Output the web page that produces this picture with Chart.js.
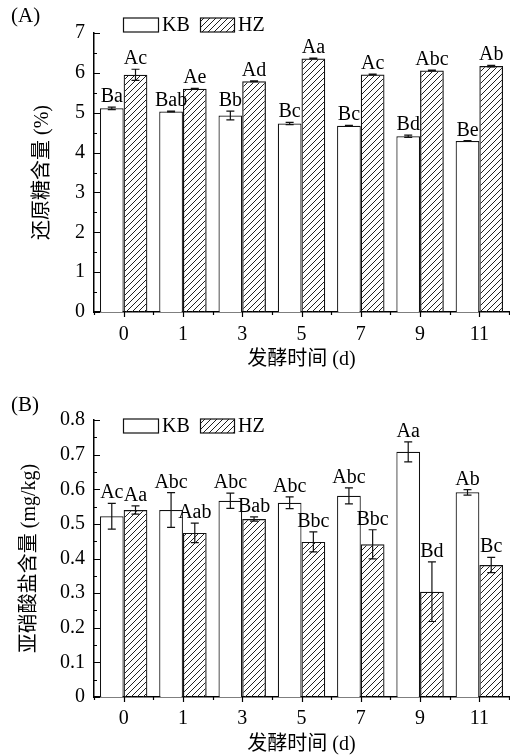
<!DOCTYPE html>
<html lang="zh">
  <head>
    <meta charset="UTF-8" />
    <title>还原糖与亚硝酸盐含量</title>
    <script src="https://cdn.jsdelivr.net/npm/chart.js"></script>
    <style>
      body {
        margin: 0;
        background: #fff;
      }
      .panel {
        position: absolute;
        left: 0;
        width: 510px;
        height: 378px;
      }
      #panelA { top: 0; }
      #panelB { top: 378px; }
    </style>
  </head>
  <body>
    <div class="panel" id="panelA"><canvas id="sugarChart" width="510" height="378"></canvas></div>
    <div class="panel" id="panelB"><canvas id="nitriteChart" width="510" height="378"></canvas></div>
    <script>
      const days = ["0", "1", "3", "5", "7", "9", "11"];

      // reducing sugar (%)
      const sugarKB = [5.11, 5.03, 4.93, 4.73, 4.67, 4.41, 4.29];
      const sugarKBErr = [0.03, 0.01, 0.11, 0.03, 0.01, 0.03, 0.01];
      const sugarHZ = [5.95, 5.6, 5.79, 6.36, 5.96, 6.06, 6.17];
      const sugarHZErr = [0.14, 0.01, 0.01, 0.01, 0.01, 0.01, 0.02];
      const sugarKBSig = ["Ba", "Bab", "Bb", "Bc", "Bc", "Bd", "Be"];
      const sugarHZSig = ["Ac", "Ae", "Ad", "Aa", "Ac", "Abc", "Ab"];

      // nitrite (mg/kg)
      const nitriteKB = [0.522, 0.54, 0.567, 0.561, 0.581, 0.708, 0.591];
      const nitriteKBErr = [0.037, 0.05, 0.022, 0.017, 0.023, 0.029, 0.008];
      const nitriteHZ = [0.54, 0.474, 0.514, 0.448, 0.441, 0.304, 0.381];
      const nitriteHZErr = [0.012, 0.028, 0.006, 0.029, 0.042, 0.086, 0.022];
      const nitriteKBSig = ["Ac", "Abc", "Abc", "Abc", "Abc", "Aa", "Ab"];
      const nitriteHZSig = ["Aa", "Aab", "Bab", "Bbc", "Bbc", "Bd", "Bc"];

      const serif = "'Liberation Serif', 'Noto Sans CJK SC', serif";
      const ink = "#111";

      // small tile with one "/" stroke, repeated as the HZ fill
      function hatchTile() {
        const s = 6;
        const c = document.createElement("canvas");
        c.width = s;
        c.height = s;
        const g = c.getContext("2d");
        g.strokeStyle = "#222";
        g.lineWidth = 1;
        g.beginPath();
        g.moveTo(-1, s + 1);
        g.lineTo(s + 1, -1);
        g.moveTo(-1, 1);
        g.lineTo(1, -1);
        g.moveTo(s - 1, s + 1);
        g.lineTo(s + 1, s - 1);
        g.stroke();
        return c;
      }

      // error bars, letters, tick marks, legend and panel tag
      function decorations(o) {
        return {
          id: "decorations",
          afterDatasetsDraw(chart) {
            const ctx = chart.ctx;
            const y = chart.scales.y;
            ctx.save();
            ctx.strokeStyle = ink;
            ctx.lineWidth = 1.2;
            ctx.fillStyle = "#000";
            ctx.font = "20px " + serif;
            ctx.textAlign = "center";
            ctx.textBaseline = "alphabetic";
            chart.data.datasets.forEach((ds, di) => {
              const meta = chart.getDatasetMeta(di);
              meta.data.forEach((bar, i) => {
                const v = ds.data[i];
                const e = ds.err[i];
                const top = y.getPixelForValue(v + e);
                const bottom = y.getPixelForValue(v - e);
                ctx.beginPath();
                ctx.moveTo(bar.x, top);
                ctx.lineTo(bar.x, bottom);
                ctx.moveTo(bar.x - 4, top);
                ctx.lineTo(bar.x + 4, top);
                ctx.moveTo(bar.x - 4, bottom);
                ctx.lineTo(bar.x + 4, bottom);
                ctx.stroke();
                ctx.fillText(ds.sig[i], bar.x, top - 5);
              });
            });
            ctx.restore();
          },
          afterDraw(chart) {
            const ctx = chart.ctx;
            const { x, y } = chart.scales;
            const area = chart.chartArea;
            ctx.save();
            ctx.strokeStyle = "#000";
            ctx.lineWidth = 1.2;
            ctx.beginPath();
            // y ticks point inward, minor ones halfway
            const n = Math.round(o.max / o.minor);
            for (let k = 0; k <= n; k++) {
              const py = Math.round(y.getPixelForValue(k * o.minor)) + 0.5;
              const len = k % 2 === 0 ? 6 : 3;
              ctx.moveTo(area.left, py);
              ctx.lineTo(area.left + len, py);
            }
            // x ticks point outward: majors at days, minors at borders
            const w = (area.right - area.left) / days.length;
            for (let i = 0; i <= days.length; i++) {
              const bx = Math.round(area.left + i * w) + 0.5;
              ctx.moveTo(bx, area.bottom);
              ctx.lineTo(bx, area.bottom + 3);
              if (i < days.length) {
                const cx = Math.round(x.getPixelForValue(i)) + 0.5;
                ctx.moveTo(cx, area.bottom);
                ctx.lineTo(cx, area.bottom + 5);
              }
            }
            ctx.stroke();

            // legend
            const ly = o.legendY;
            ctx.lineWidth = 1.2;
            ctx.strokeStyle = ink;
            ctx.fillStyle = "#fff";
            ctx.fillRect(123.5, ly - 7, 35, 14);
            ctx.strokeRect(123.5, ly - 7, 35, 14);
            ctx.fillStyle = chart.data.datasets[1].backgroundColor;
            ctx.fillRect(200.5, ly - 7, 34, 14);
            ctx.strokeRect(200.5, ly - 7, 34, 14);
            ctx.fillStyle = "#000";
            ctx.font = "20px " + serif;
            ctx.textAlign = "left";
            ctx.textBaseline = "middle";
            ctx.fillText("KB", 162, ly + 1);
            ctx.fillText("HZ", 238, ly + 1);

            // panel tag
            ctx.font = "21px " + serif;
            ctx.fillText(o.tag, 11, o.tagY);
            ctx.restore();
          },
        };
      }

      function buildChart(id, o) {
        const ctx = document.getElementById(id).getContext("2d");
        const hatch = ctx.createPattern(hatchTile(), "repeat");
        const tickFont = { family: serif, size: 20 };
        const titleFont = { family: serif, size: 20, lineHeight: 1.1 };
        return new Chart(ctx, {
          type: "bar",
          data: {
            labels: days,
            datasets: [
              {
                label: "KB",
                data: o.kb,
                err: o.kbErr,
                sig: o.kbSig,
                backgroundColor: "#fff",
                borderColor: ink,
                borderWidth: 1.2,
              },
              {
                label: "HZ",
                data: o.hz,
                err: o.hzErr,
                sig: o.hzSig,
                backgroundColor: hatch,
                borderColor: ink,
                borderWidth: 1.2,
              },
            ],
          },
          options: {
            responsive: false,
            animation: false,
            devicePixelRatio: 1,
            layout: { padding: { top: o.padTop, right: 1, left: 0, bottom: 0 } },
            datasets: { bar: { categoryPercentage: 0.8, barPercentage: 1 } },
            plugins: { legend: { display: false }, tooltip: { enabled: false } },
            scales: {
              x: {
                grid: { display: false, drawTicks: false },
                border: { color: "#000", width: 1.5 },
                ticks: { color: "#000", font: tickFont, padding: o.xTickPad },
                title: {
                  display: true,
                  text: "发酵时间 (d)",
                  color: "#000",
                  font: titleFont,
                  padding: { top: 0, bottom: o.xTitlePad },
                },
                afterFit: (s) => {
                  s.height = o.xHeight;
                },
              },
              y: {
                min: 0,
                max: o.max,
                grid: { display: false, drawTicks: false },
                border: { color: "#000", width: 1.5 },
                ticks: {
                  stepSize: o.step,
                  color: "#000",
                  font: tickFont,
                  padding: 9,
                  callback: o.fmt,
                },
                title: {
                  display: true,
                  text: o.yTitle,
                  color: "#000",
                  font: titleFont,
                  padding: { top: o.yTitlePad, bottom: 0 },
                },
                afterFit: (s) => {
                  s.width = 94;
                },
              },
            },
          },
          plugins: [decorations(o)],
        });
      }

      buildChart("sugarChart", {
        kb: sugarKB,
        kbErr: sugarKBErr,
        kbSig: sugarKBSig,
        hz: sugarHZ,
        hzErr: sugarHZErr,
        hzSig: sugarHZSig,
        max: 7,
        step: 1,
        minor: 0.5,
        fmt: (v) => String(v),
        yTitle: "还原糖含量 (%)",
        yTitlePad: 32,
        padTop: 33,
        xHeight: 66,
        xTickPad: 11,
        xTitlePad: 7,
        legendY: 25,
        tag: "(A)",
        tagY: 16,
      });

      buildChart("nitriteChart", {
        kb: nitriteKB,
        kbErr: nitriteKBErr,
        kbSig: nitriteKBSig,
        hz: nitriteHZ,
        hzErr: nitriteHZErr,
        hzSig: nitriteHZSig,
        max: 0.8,
        step: 0.1,
        minor: 0.05,
        fmt: (v) => (v === 0 ? "0" : v.toFixed(1)),
        yTitle: "亚硝酸盐含量 (mg/kg)",
        yTitlePad: 19,
        padTop: 42,
        xHeight: 59,
        xTickPad: 10,
        xTitlePad: 0,
        legendY: 48,
        tag: "(B)",
        tagY: 27,
      });
    </script>
  </body>
</html>
